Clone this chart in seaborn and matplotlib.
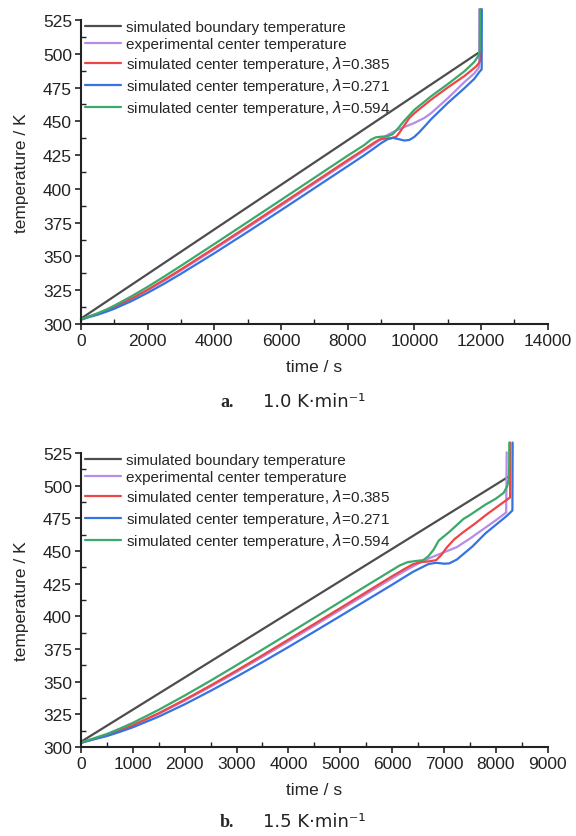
import numpy as np
import pandas as pd
import seaborn as sns
import matplotlib.pyplot as plt
from matplotlib.ticker import MultipleLocator

# ---- panel a: 1.0 K/min ----
A_BOUND_T = [0, 11970]
A_BOUND_Y = [304.0, 501.5]

A_EXP_T = [0, 250, 500, 750, 1000, 1500, 2000, 2500, 3000, 4000, 5000, 6000, 7000, 8000,
           8500, 8800, 9000, 9200, 9500, 9800, 10000, 10300, 10500, 11000, 11500, 11800,
           11930, 11945, 11950]
A_EXP_Y = [303.3, 305.5, 307.4, 309.7, 312.3, 318.3, 325.0, 332.1, 339.7, 355.3, 371.3, 387.5,
           403.9, 420.2, 428.3, 433.3, 436.8, 440.0, 443.8, 446.8, 448.8, 452.5, 456.0, 467.0,
           479.0, 485.5, 489.5, 493.0, 533.0]

A_R385_T = [0, 250, 500, 750, 1000, 1500, 2000, 2500, 3000, 4000, 5000, 6000, 7000, 8000,
            8500, 8800, 8950, 9100, 9300, 9450, 9550, 9700, 9850, 10000, 10500, 11000, 11500,
            11850, 11950, 11985, 11990]
A_R385_Y = [303.3, 305.5, 307.4, 309.8, 312.5, 318.6, 325.4, 332.8, 340.4, 356.2, 372.3, 388.6,
            404.9, 421.3, 429.3, 434.3, 436.5, 437.2, 437.5, 438.5, 441.5, 447.0, 452.5, 456.0,
            466.0, 475.0, 483.5, 490.5, 493.5, 496.0, 533.0]

A_R271_T = [0, 250, 500, 750, 1000, 1500, 2000, 2500, 3000, 4000, 5000, 6000, 7000, 8000,
            8500, 8800, 9000, 9200, 9350, 9500, 9700, 9850, 10000, 10150, 10300, 10500, 11000,
            11500, 11800, 11950, 12020, 12025]
A_R271_Y = [303.2, 305.2, 306.9, 309.0, 311.3, 316.8, 323.1, 329.9, 337.2, 352.4, 368.2, 384.2,
            400.5, 416.8, 425.0, 430.2, 433.8, 436.8, 437.8, 437.0, 435.8, 436.2, 438.5, 442.0,
            446.0, 451.5, 463.5, 474.5, 481.5, 486.5, 488.5, 533.0]

A_R594_T = [0, 250, 500, 750, 1000, 1500, 2000, 2500, 3000, 4000, 5000, 6000, 7000, 8000,
            8500, 8700, 8850, 9000, 9200, 9350, 9500, 9700, 10000, 10500, 11000, 11500, 11800,
            11920, 11960, 11965, 11968]
A_R594_Y = [303.4, 305.7, 308.0, 310.6, 313.6, 320.3, 327.5, 335.2, 343.1, 359.2, 375.5, 391.8,
            408.2, 424.6, 432.5, 436.5, 438.2, 438.6, 439.0, 440.5, 444.5, 450.5, 458.5, 468.5,
            477.5, 487.0, 494.0, 498.5, 502.0, 510.0, 533.0]

# ---- panel b: 1.5 K/min ----
B_BOUND_T = [0, 8275]
B_BOUND_Y = [304.0, 507.6]

B_EXP_T = [0, 250, 500, 750, 1000, 1500, 2000, 2500, 3000, 3500, 4000, 4500, 5000, 5500, 6000,
           6300, 6500, 6750, 7000, 7250, 7500, 7750, 8000, 8200, 8210]
B_EXP_Y = [303.2, 306.2, 309.1, 312.6, 316.5, 325.4, 335.5, 346.2, 357.4, 369.0, 380.8, 392.8,
           404.9, 417.0, 429.1, 436.0, 440.3, 445.0, 449.0, 453.0, 459.5, 466.5, 473.5, 479.5,
           525.5]

B_R385_T = [0, 250, 500, 750, 1000, 1500, 2000, 2500, 3000, 3500, 4000, 4500, 5000, 5500, 6000,
            6250, 6400, 6550, 6700, 6850, 6950, 7050, 7200, 7375, 7600, 7825, 8050, 8275, 8280]
B_R385_Y = [303.3, 306.3, 309.1, 312.7, 316.7, 325.9, 336.2, 347.1, 358.5, 370.2, 382.2, 394.2,
            406.3, 418.5, 430.7, 436.5, 439.8, 441.5, 442.0, 443.0, 447.0, 452.5, 459.0, 464.5,
            471.0, 478.0, 484.5, 491.0, 533.0]

B_R271_T = [0, 250, 500, 750, 1000, 1500, 2000, 2500, 3000, 3500, 4000, 4500, 5000, 5500, 6000,
            6400, 6700, 6850, 7000, 7100, 7250, 7400, 7550, 7800, 8000, 8200, 8320, 8325]
B_R271_Y = [303.2, 305.9, 308.4, 311.6, 315.1, 323.3, 332.7, 343.0, 353.8, 365.0, 376.5, 388.3,
            400.2, 412.2, 424.2, 434.0, 440.0, 441.0, 440.3, 440.5, 443.5, 448.5, 453.5, 463.5,
            470.0, 476.5, 481.0, 533.0]

B_R594_T = [0, 250, 500, 750, 1000, 1500, 2000, 2500, 3000, 3500, 4000, 4500, 5000, 5500, 6000,
            6150, 6300, 6450, 6600, 6700, 6800, 6900, 7100, 7375, 7500, 7800, 8000, 8150, 8220,
            8250, 8258, 8260]
B_R594_Y = [303.4, 306.7, 310.0, 314.1, 318.5, 328.5, 339.4, 350.8, 362.6, 374.6, 386.7, 398.9,
            411.1, 423.3, 435.4, 439.0, 441.5, 442.3, 443.0, 446.0, 451.0, 458.0, 464.5, 474.5,
            477.5, 485.5, 490.0, 494.5, 499.5, 505.0, 515.0, 533.0]

LABELS = ["simulated boundary temperature",
          "experimental center temperature",
          r"simulated center temperature, $\lambda$=0.385",
          r"simulated center temperature, $\lambda$=0.271",
          r"simulated center temperature, $\lambda$=0.594"]
COLORS = ["#4d4d4d", "#b58de6", "#ee4545", "#3573e0", "#3aa96a"]

PANELS = [
    dict(series=[(A_BOUND_T, A_BOUND_Y), (A_EXP_T, A_EXP_Y), (A_R385_T, A_R385_Y),
                 (A_R271_T, A_R271_Y), (A_R594_T, A_R594_Y)],
         xlim=(0, 14000), xmajor=2000, xminor=1000,
         rect=[0.1406, 0.6117, 0.8102, 0.3632],
         tag="a.", rate="1.0 K\u00b7min\u207b\u00b9", cap_y=0.5197),
    dict(series=[(B_BOUND_T, B_BOUND_Y), (B_EXP_T, B_EXP_Y), (B_R385_T, B_R385_Y),
                 (B_R271_T, B_R271_Y), (B_R594_T, B_R594_Y)],
         xlim=(0, 9000), xmajor=1000, xminor=500,
         rect=[0.1406, 0.1063, 0.8102, 0.3513],
         tag="b.", rate="1.5 K\u00b7min\u207b\u00b9", cap_y=0.0179),
]

sns.set_theme(style="ticks")
plt.rcParams['font.family'] = ['Liberation Sans', 'DejaVu Sans']
plt.rcParams['mathtext.fontset'] = 'dejavusans'

fig = plt.figure(figsize=(5.76, 8.37), dpi=100)

for p in PANELS:
    ax = fig.add_axes(p["rect"])
    for (t, y), lab, col in zip(p["series"], LABELS, COLORS):
        df = pd.DataFrame({"time": t, "temp": y})
        sns.lineplot(data=df, x="time", y="temp", sort=False, estimator=None,
                     color=col, linewidth=1.6, label=lab, ax=ax, clip_on=False)

    ax.set_xlim(*p["xlim"])
    ax.set_ylim(300, 525)
    ax.xaxis.set_major_locator(MultipleLocator(p["xmajor"]))
    ax.xaxis.set_minor_locator(MultipleLocator(p["xminor"]))
    ax.yaxis.set_major_locator(MultipleLocator(25))
    ax.yaxis.set_minor_locator(MultipleLocator(12.5))
    ax.tick_params(which="major", direction="out", length=4.5, width=1.2,
                   labelsize=12.5, pad=2, colors="#222222")
    ax.tick_params(which="minor", direction="in", length=3.5, width=1.0, colors="#222222")
    for side in ["top", "right"]:
        ax.spines[side].set_visible(False)
    for side in ["left", "bottom"]:
        ax.spines[side].set_linewidth(1.5)
        ax.spines[side].set_color("#222222")

    ax.set_xlabel("time / s", fontsize=12.5, labelpad=8)
    ax.set_ylabel("temperature / K", fontsize=12.5, labelpad=10)

    ax.legend(loc="upper left", bbox_to_anchor=(0.008, 1.0), frameon=False,
              fontsize=11, handlelength=2.4, handletextpad=0.3, labelspacing=0.2,
              borderpad=0, borderaxespad=0)

    fig.text(0.382, p["cap_y"], p["tag"], ha="left", va="center", fontsize=13,
             fontweight="bold", family=["Liberation Serif", "DejaVu Serif"])
    fig.text(0.457, p["cap_y"], p["rate"], ha="left", va="center", fontsize=13,
             family=["DejaVu Sans"], color="#222222")

fig.savefig("out.png", dpi=100)
